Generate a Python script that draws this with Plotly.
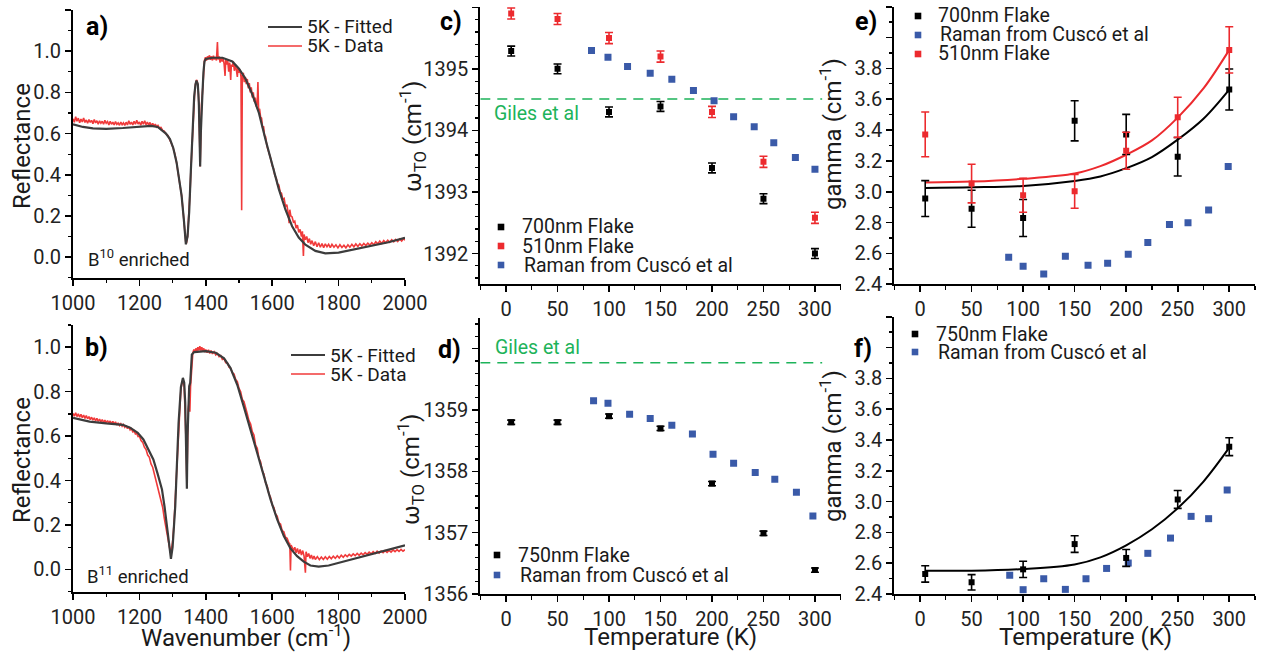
import plotly.graph_objects as go

W, H = 1262, 655
FONT = "Roboto"

# ---------------- panel a / b : reflectance spectra ----------------
fit_a_wn = [1000,1030,1060,1100,1150,1200,1235,1255,1270,1280,1292,1302,1312,1320,1327,1334,1340,1345,1350,1355,
            1360,1365,1369,1372,1376,1379,1381,1383,1385,1387,1390,1393,1396,1400,1420,1450,1480,1500,1520,1540,
            1560,1580,1600,1620,1640,1660,1680,1700,1730,1760,1800,1850,1900,1950,2000]
fit_a_R = [0.645,0.632,0.625,0.623,0.627,0.633,0.637,0.632,0.615,0.6,0.573,0.53,0.46,0.38,0.3,0.18,0.062,0.1,0.22,0.42,
           0.62,0.78,0.84,0.857,0.84,0.75,0.6,0.44,0.6,0.735,0.8,0.9,0.95,0.962,0.968,0.968,0.95,0.915,0.865,0.79,
           0.70,0.57,0.45,0.33,0.23,0.15,0.095,0.06,0.03,0.018,0.022,0.038,0.055,0.072,0.094]

data_a = [(1000,.672),(1004,.655),(1008,.682),(1012,.66),(1016,.675),(1020,.652),(1024,.67),(1028,.656),(1032,.676),
 (1036,.654),(1040,.666),(1044,.65),(1048,.668),(1052,.654),(1056,.664),(1060,.648),(1064,.668),(1068,.652),(1072,.662),
 (1076,.646),(1080,.662),(1084,.65),(1088,.66),(1092,.645),(1096,.664),(1100,.65),(1104,.658),(1108,.642),(1112,.66),
 (1116,.645),(1120,.655),(1124,.642),(1128,.658),(1132,.645),(1136,.652),(1140,.64),(1144,.656),(1148,.643),(1152,.652),
 (1156,.64),(1160,.655),(1164,.642),(1168,.662),(1172,.645),(1176,.655),(1180,.642),(1184,.66),(1188,.645),(1192,.664),
 (1196,.646),(1200,.656),(1204,.64),(1208,.66),(1212,.645),(1216,.662),(1220,.643),(1224,.656),(1228,.64),(1232,.654),
 (1236,.638),(1240,.65),(1244,.636),(1248,.646),(1252,.632),(1256,.64),(1260,.628),(1265,.63),(1270,.615),(1275,.612),
 (1280,.598),(1286,.59),(1292,.57),(1297,.55),(1302,.528),(1307,.5),(1312,.458),(1316,.42),(1320,.38),(1324,.335),
 (1327,.3),(1331,.235),(1334,.18),(1337,.12),(1340,.065),(1342,.07),(1345,.1),(1348,.17),(1350,.22),(1353,.33),
 (1355,.42),(1358,.54),(1360,.62),(1363,.72),(1365,.78),(1367,.815),(1369,.84),(1372,.86),(1374,.855),(1376,.835),
 (1378,.79),(1379,.75),(1381,.6),(1383,.44),(1385,.62),(1387,.74),(1390,.8),(1393,.9),(1396,.955),(1399,.97),
 (1402,.955),(1405,.975),(1408,.96),(1411,.98),(1414,.958),(1417,.975),(1420,.955),(1423,.978),(1426,.96),(1429,.972),
 (1432,.955),(1435,1.045),(1437,.96),(1440,.975),(1443,.945),(1446,.97),(1449,.95),(1452,.965),(1455,.94),(1458,.88),
 (1460,.96),(1463,.935),(1466,.955),(1469,.9),(1472,.945),(1475,.86),(1477,.935),(1480,.925),(1483,.95),(1486,.905),
 (1489,.935),(1492,.91),(1495,.875),(1497,.92),(1500,.895),(1503,.91),(1506,.875),(1508,.228),(1510,.88),(1513,.895),
 (1516,.85),(1519,.875),(1522,.84),(1525,.865),(1528,.82),(1531,.845),(1534,.8),(1537,.825),(1540,.775),(1543,.8),
 (1546,.755),(1549,.775),(1552,.73),(1555,.75),(1557,.85),(1559,.715),(1562,.72),(1565,.68),(1568,.675),(1571,.63),
 (1574,.635),(1577,.59),(1580,.585),(1584,.54),(1588,.52),(1592,.49),(1596,.475),(1600,.445),(1604,.43),(1608,.395),
 (1612,.385),(1616,.355),(1620,.35),(1624,.315),(1628,.31),(1632,.28),(1636,.285),(1640,.245),(1644,.255),(1648,.215),
 (1651,.165),(1653,.23),(1656,.2),(1660,.195),(1664,.17),(1668,.175),(1672,.14),(1676,.155),(1680,.12),(1684,.135),
 (1688,.1),(1691,.125),(1694,.005),(1696,.11),(1700,.085),(1704,.1),(1708,.07),(1712,.09),(1716,.062),(1720,.08),
 (1725,.055),(1730,.075),(1735,.05),(1740,.07),(1745,.048),(1750,.066),(1755,.046),(1760,.064),(1765,.05),(1770,.062),
 (1775,.046),(1780,.062),(1786,.048),(1792,.06),(1798,.045),(1804,.06),(1810,.047),(1816,.058),(1822,.045),(1828,.06),
 (1834,.048),(1840,.062),(1846,.05),(1852,.064),(1858,.052),(1864,.065),(1870,.054),(1876,.066),(1882,.056),(1888,.068),
 (1894,.058),(1900,.07),(1906,.06),(1912,.074),(1918,.064),(1924,.078),(1930,.066),(1936,.08),(1942,.07),(1948,.082),
 (1954,.072),(1960,.084),(1966,.074),(1972,.086),(1978,.076),(1984,.088),(1990,.078),(1996,.09),(2000,.082)]

fit_b_wn = [1000,1050,1100,1150,1172,1195,1212,1228,1242,1255,1268,1276,1283,1289,1295,1300,1308,1318,1325,1331,
            1335,1338,1341,1343,1345,1348,1350,1353,1356,1358,1365,1400,1430,1455,1474,1495,1514,1535,1555,1575,
            1595,1615,1635,1655,1675,1695,1715,1740,1770,1800,1850,1900,1950,2000]
fit_b_R = [0.682,0.665,0.657,0.651,0.638,0.615,0.585,0.54,0.495,0.43,0.36,0.28,0.195,0.1,0.048,0.1,0.285,0.66,0.82,0.862,
           0.84,0.75,0.55,0.363,0.6,0.78,0.825,0.84,0.9,0.967,0.978,0.982,0.975,0.95,0.907,0.83,0.735,0.63,0.525,0.42,
           0.315,0.225,0.15,0.095,0.06,0.035,0.018,0.013,0.018,0.03,0.05,0.072,0.092,0.109]

data_b = [(1000,.702),(1004,.69),(1008,.705),(1012,.688),(1016,.7),(1020,.685),(1024,.698),(1028,.683),(1032,.695),
 (1036,.68),(1040,.692),(1044,.678),(1048,.688),(1052,.674),(1056,.685),(1060,.672),(1064,.682),(1068,.668),(1072,.68),
 (1076,.666),(1080,.676),(1084,.664),(1088,.674),(1092,.662),(1096,.672),(1100,.66),(1104,.67),(1108,.658),(1112,.668),
 (1116,.656),(1120,.666),(1124,.654),(1128,.664),(1132,.65),(1136,.66),(1140,.648),(1144,.656),(1148,.644),(1152,.652),
 (1156,.64),(1160,.648),(1164,.634),(1168,.642),(1172,.628),(1176,.634),(1180,.62),(1184,.624),(1188,.61),(1192,.612),
 (1196,.598),(1200,.6),(1205,.58),(1210,.572),(1215,.55),(1220,.54),(1225,.515),(1230,.505),(1235,.475),(1240,.46),
 (1245,.43),(1250,.41),(1255,.375),(1260,.35),(1265,.31),(1270,.28),(1275,.23),(1280,.19),(1285,.14),(1290,.095),
 (1293,.08),(1296,.085),(1300,.125),(1304,.2),(1308,.32),(1312,.45),(1316,.6),(1320,.72),(1325,.81),(1329,.845),
 (1332,.85),(1335,.82),(1338,.72),(1341,.55),(1343,.38),(1345,.55),(1347,.72),(1350,.76),(1352,.71),(1354,.82),
 (1356,.88),(1358,.95),(1361,.975),(1364,.99),(1367,.978),(1370,.995),(1373,.98),(1376,1.0),(1379,.985),(1382,1.005),
 (1385,.985),(1388,1.0),(1391,.98),(1394,.995),(1397,.978),(1400,.99),(1404,.975),(1408,.988),(1412,.972),(1416,.985),
 (1420,.97),(1425,.98),(1430,.965),(1435,.972),(1440,.958),(1445,.962),(1450,.945),(1455,.948),(1460,.93),(1465,.93),
 (1470,.91),(1475,.905),(1480,.885),(1485,.88),(1490,.855),(1495,.845),(1500,.815),(1505,.8),(1510,.765),(1515,.755),
 (1520,.72),(1525,.7),(1530,.67),(1535,.655),(1540,.62),(1545,.605),(1550,.56),(1555,.545),(1560,.5),(1565,.485),
 (1570,.445),(1575,.43),(1580,.39),(1585,.375),(1590,.34),(1595,.325),(1600,.29),(1605,.28),(1610,.25),(1615,.24),
 (1620,.21),(1625,.205),(1630,.175),(1635,.17),(1640,.145),(1645,.14),(1650,.12),(1653,.115),(1655,-.005),(1657,.11),
 (1660,.1),(1664,.085),(1668,.1),(1672,.075),(1676,.095),(1680,.07),(1684,.09),(1688,.065),(1692,.085),(1696,.06),
 (1700,-.015),(1702,.08),(1706,.058),(1710,.072),(1714,.05),(1718,.065),(1722,.046),(1726,.06),(1730,.045),(1736,.058),
 (1742,.044),(1748,.056),(1754,.045),(1760,.057),(1766,.046),(1772,.058),(1778,.048),(1784,.06),(1790,.05),(1796,.062),
 (1802,.052),(1808,.064),(1814,.055),(1820,.066),(1826,.058),(1832,.068),(1838,.06),(1844,.07),(1850,.062),(1856,.072),
 (1862,.064),(1868,.074),(1874,.066),(1880,.076),(1886,.068),(1892,.078),(1898,.07),(1904,.08),(1910,.072),(1916,.082),
 (1922,.074),(1928,.083),(1934,.076),(1940,.085),(1946,.077),(1952,.086),(1958,.078),(1964,.088),(1970,.08),(1976,.089),
 (1982,.081),(1988,.09),(1994,.082),(2000,.089)]

# ---------------- panel c / d : omega_TO ----------------
T_flake = [5, 50, 100, 150, 200, 250, 300]
w700 = [1395.29, 1395.00, 1394.30, 1394.39, 1393.39, 1392.89, 1392.00]
w700_err = [0.08, 0.08, 0.08, 0.08, 0.08, 0.08, 0.08]
w510 = [1395.90, 1395.81, 1395.50, 1395.20, 1394.30, 1393.49, 1392.58]
w510_err = [0.09, 0.09, 0.09, 0.09, 0.09, 0.09, 0.09]
T_raman_c = [83, 99, 118, 140, 161, 182, 202, 221, 241, 260, 281, 300]
w_raman_c = [1395.30, 1395.19, 1395.04, 1394.93, 1394.83, 1394.65, 1394.48, 1394.22, 1394.06, 1393.80, 1393.56, 1393.37]
giles_T = [-25, 307]
giles_c = [1394.51, 1394.51]

w750 = [1358.80, 1358.80, 1358.90, 1358.70, 1357.80, 1356.99, 1356.39]
w750_err = [0.035, 0.035, 0.035, 0.035, 0.035, 0.035, 0.035]
T_raman_d = [85, 99, 120, 140, 161, 181, 201, 221, 242, 261, 282, 298]
w_raman_d = [1359.15, 1359.11, 1358.93, 1358.86, 1358.75, 1358.61, 1358.28, 1358.13, 1357.98, 1357.87, 1357.66, 1357.27]
giles_d = [1359.77, 1359.77]

# ---------------- panel e / f : gamma ----------------
g700 = [2.956, 2.89, 2.83, 3.46, 3.372, 3.227, 3.663]
g700_err = [0.116, 0.12, 0.12, 0.13, 0.13, 0.125, 0.133]
g510 = [3.372, 3.053, 2.977, 3.003, 3.266, 3.483, 3.92]
g510_err = [0.145, 0.125, 0.11, 0.11, 0.12, 0.13, 0.15]
T_raman_e = [86, 100, 120, 141, 163, 182, 202, 221, 242, 260, 280, 299]
g_raman_e = [2.576, 2.517, 2.467, 2.582, 2.524, 2.537, 2.595, 2.671, 2.788, 2.799, 2.882, 3.164]
T_fit = [5, 50, 100, 150, 175, 200, 225, 250, 275, 300]
g700_fit = [3.025, 3.029, 3.038, 3.07, 3.099, 3.153, 3.225, 3.338, 3.474, 3.663]
g510_fit = [3.06, 3.066, 3.084, 3.118, 3.166, 3.24, 3.333, 3.481, 3.67, 3.92]

g750 = [2.53, 2.476, 2.56, 2.724, 2.634, 3.014, 3.356]
g750_err = [0.053, 0.05, 0.053, 0.054, 0.055, 0.058, 0.058]
T_raman_f = [87, 100, 120, 141, 161, 181, 202, 221, 243, 263, 280, 298]
g_raman_f = [2.521, 2.428, 2.499, 2.430, 2.499, 2.566, 2.601, 2.664, 2.763, 2.904, 2.889, 3.075]
g750_fit = [2.551, 2.551, 2.562, 2.592, 2.638, 2.716, 2.82, 2.956, 3.13, 3.35]

gamma_ticks = [2.4, 2.6, 2.8, 3.0, 3.2, 3.4, 3.6, 3.8, 4.0, 4.2]
gamma_labels = ["2.4", "2.6", "2.8", "3.0", "3.2", "3.4", "3.6", "3.8", "", ""]

# ---------------- styles ----------------
RED = "#ec2a2e"
REDLINE = "#f03a3a"
GRAY = "#3c3c3c"
BLUE = "#3a5aa8"
GREEN = "#1db35a"


def pxx(x):
    return x / W


def pyy(y):
    return 1 - y / H


fig = go.Figure()

wa, Ra = zip(*data_a)
wb, Rb = zip(*data_b)
fig.add_trace(go.Scatter(x=wa, y=Ra, mode="lines", line=dict(color=REDLINE, width=1.6), xaxis="x", yaxis="y"))
fig.add_trace(go.Scatter(x=fit_a_wn, y=fit_a_R, mode="lines", line=dict(color=GRAY, width=2.2), xaxis="x", yaxis="y"))
fig.add_trace(go.Scatter(x=wb, y=Rb, mode="lines", line=dict(color=REDLINE, width=1.6), xaxis="x2", yaxis="y2"))
fig.add_trace(go.Scatter(x=fit_b_wn, y=fit_b_R, mode="lines", line=dict(color=GRAY, width=2.2), xaxis="x2", yaxis="y2"))


def pts(x, y, color, xa, ya, err=None, size=7):
    kw = {}
    if err is not None:
        kw["error_y"] = dict(type="data", array=err, color=color, thickness=1.6, width=4)
    return go.Scatter(x=x, y=y, mode="markers", marker=dict(symbol="square", size=size, color=color),
                      xaxis=xa, yaxis=ya, **kw)


# c
fig.add_trace(go.Scatter(x=giles_T, y=giles_c, mode="lines", line=dict(color=GREEN, width=1.6, dash="10px,7px"),
                         xaxis="x3", yaxis="y3"))
fig.add_trace(pts(T_raman_c, w_raman_c, BLUE, "x3", "y3"))
fig.add_trace(pts(T_flake, w700, "black", "x3", "y3", w700_err, 6))
fig.add_trace(pts(T_flake, w510, RED, "x3", "y3", w510_err, 6))
# d
fig.add_trace(go.Scatter(x=giles_T, y=giles_d, mode="lines", line=dict(color=GREEN, width=1.6, dash="10px,7px"),
                         xaxis="x4", yaxis="y4"))
fig.add_trace(pts(T_raman_d, w_raman_d, BLUE, "x4", "y4"))
fig.add_trace(pts(T_flake, w750, "black", "x4", "y4", w750_err, 6))
# e
fig.add_trace(pts(T_raman_e, g_raman_e, BLUE, "x5", "y5"))
fig.add_trace(go.Scatter(x=T_fit, y=g700_fit, mode="lines", line=dict(color="black", width=2, shape="spline"),
                         xaxis="x5", yaxis="y5"))
fig.add_trace(go.Scatter(x=T_fit, y=g510_fit, mode="lines", line=dict(color=RED, width=2, shape="spline"),
                         xaxis="x5", yaxis="y5"))
fig.add_trace(pts(T_flake, g700, "black", "x5", "y5", g700_err, 6))
fig.add_trace(pts(T_flake, g510, RED, "x5", "y5", g510_err, 6))
# f
fig.add_trace(pts(T_raman_f, g_raman_f, BLUE, "x6", "y6"))
fig.add_trace(go.Scatter(x=T_fit, y=g750_fit, mode="lines", line=dict(color="black", width=2, shape="spline"),
                         xaxis="x6", yaxis="y6"))
fig.add_trace(pts(T_flake, g750, "black", "x6", "y6", g750_err, 6))


def axis(domain, rng, anchor, dtick=None, tick0=None, tickvals=None, ticktext=None, minor=None, fmt=None):
    d = dict(domain=domain, range=rng, anchor=anchor, showline=True, linecolor="black", linewidth=2,
             ticks="outside", ticklen=6, tickwidth=1.6, tickcolor="black", showgrid=False, zeroline=False,
             automargin=False, tickfont=dict(family=FONT, size=20, color="#222"), fixedrange=True)
    if fmt:
        d["tickformat"] = fmt
    if tickvals is not None:
        d["tickmode"] = "array"
        d["tickvals"] = tickvals
        if ticktext is not None:
            d["ticktext"] = ticktext
    else:
        d["tickmode"] = "linear"
        d["dtick"] = dtick
        d["tick0"] = tick0 if tick0 is not None else 0
    if minor is not None:
        d["minor"] = dict(dtick=minor[0], tick0=minor[1], ticks="outside", ticklen=3.5, tickwidth=1.3,
                          tickcolor="black", showgrid=False)
    return d


xa_dom = [pxx(73), pxx(405)]
xc_dom = [pxx(480.3), pxx(840.7)]
xe_dom = [pxx(894.3), pxx(1255)]
top_a = [pyy(277.7), pyy(10)]
bot_b = [pyy(591.7), pyy(325)]
top_c = [pyy(284.3), pyy(7.3)]
bot_d = [pyy(594), pyy(318)]
top_e = [pyy(284.3), pyy(6.7)]
bot_f = [pyy(594), pyy(316.7)]

layout = dict(
    template="none",
    width=W, height=H, margin=dict(l=0, r=0, t=0, b=0, pad=0, autoexpand=False), showlegend=False,
    plot_bgcolor="white", paper_bgcolor="white", font=dict(family=FONT, color="#1a1a1a"),
    xaxis=axis(xa_dom, [1000, 2000], "y", dtick=200, tick0=1000, minor=(100, 1000)),
    yaxis=axis(top_a, [-0.1, 1.2], "x", dtick=0.2, tick0=0, minor=(0.1, 0), fmt=".1f"),
    xaxis2=axis(xa_dom, [1000, 2000], "y2", dtick=200, tick0=1000, minor=(100, 1000)),
    yaxis2=axis(bot_b, [-0.1, 1.1], "x2", dtick=0.2, tick0=0, minor=(0.1, 0), fmt=".1f"),
    xaxis3=axis(xc_dom, [-25, 325], "y3", dtick=50, tick0=0, minor=(25, 0)),
    yaxis3=axis(top_c, [1391.5, 1396], "x3", tickvals=[1392, 1393, 1394, 1395, 1396],
                ticktext=["1392", "1393", "1394", "1395", ""], minor=(0.2, 1392)),
    xaxis4=axis(xc_dom, [-25, 325], "y4", dtick=50, tick0=0, minor=(25, 0)),
    yaxis4=axis(bot_d, [1356, 1360.5], "x4", tickvals=[1356, 1357, 1358, 1359, 1360],
                ticktext=["1356", "1357", "1358", "1359", ""], minor=(0.2, 1356)),
    xaxis5=axis(xe_dom, [-25, 325], "y5", dtick=50, tick0=0, minor=(25, 0)),
    yaxis5=axis(top_e, [2.4, 4.2], "x5", tickvals=gamma_ticks, ticktext=gamma_labels, minor=(0.1, 2.4)),
    xaxis6=axis(xe_dom, [-25, 325], "y6", dtick=50, tick0=0, minor=(25, 0)),
    yaxis6=axis(bot_f, [2.4, 4.2], "x6", tickvals=gamma_ticks, ticktext=gamma_labels, minor=(0.1, 2.4)),
)
fig.update_layout(**layout)

anns = []
shapes = []


def ann(text, x, y, size=19, color="#1a1a1a", xanchor="left", angle=0, bold=False):
    anns.append(dict(text=("<b>%s</b>" % text) if bold else text, x=pxx(x), y=pyy(y), xref="paper", yref="paper",
                     xanchor=xanchor, yanchor="middle", showarrow=False, textangle=angle,
                     font=dict(family=FONT, size=size, color=color)))


# panel labels
for lab, x, y in [("a)", 97, 27), ("b)", 97, 347), ("c)", 451, 22), ("d)", 449, 349), ("e)", 866, 21),
                  ("f)", 863, 348)]:
    ann(lab, x, y, size=25, color="black", xanchor="center", bold=True)

# axis titles
ann("Reflectance", 22, 146, size=24, xanchor="center", angle=-90)
ann("Reflectance", 22, 460, size=24, xanchor="center", angle=-90)
ann("Wavenumber (cm<sup>-1</sup>)", 246, 636, size=24, xanchor="center")
ann("ω<sub>TO</sub> (cm<sup>-1</sup>)", 412, 137, size=24, xanchor="center", angle=-90)
ann("ω<sub>TO</sub> (cm<sup>-1</sup>)", 410, 470, size=24, xanchor="center", angle=-90)
ann("Temperature (K)", 670, 637, size=24, xanchor="center")
ann("gamma (cm<sup>-1</sup>)", 831, 134, size=24, xanchor="center", angle=-90)
ann("gamma (cm<sup>-1</sup>)", 831, 446, size=24, xanchor="center", angle=-90)
ann("Temperature (K)", 1085, 637, size=24, xanchor="center")

# in-plot texts
ann("B<sup>10</sup> enriched", 86, 259, size=18.5)
ann("B<sup>11</sup> enriched", 85, 575, size=18.5)
ann("Giles et al", 492, 113, size=19.5, color=GREEN)
ann("Giles et al", 493, 347, size=19.5, color=GREEN)


def leg_line(x0, x1, y, color, width, text):
    shapes.append(dict(type="line", xref="paper", yref="paper", x0=pxx(x0), x1=pxx(x1), y0=pyy(y), y1=pyy(y),
                       line=dict(color=color, width=width)))
    ann(text, x1 + 3, y, size=19)


def leg_sq(x, y, color, text, tx):
    s = 3.3
    shapes.append(dict(type="rect", xref="paper", yref="paper", x0=pxx(x - s), x1=pxx(x + s), y0=pyy(y + s),
                       y1=pyy(y - s), fillcolor=color, line=dict(width=0)))
    ann(text, tx, y, size=19.5)


leg_line(268, 302, 27, GRAY, 2.2, "5K - Fitted")
leg_line(268, 302, 46, REDLINE, 1.5, "5K - Data")
leg_line(291, 325, 355, GRAY, 2.2, "5K - Fitted")
leg_line(291, 325, 374, REDLINE, 1.5, "5K - Data")

leg_sq(501, 227, "black", "700nm Flake", 520)
leg_sq(501, 246, RED, "510nm Flake", 520)
leg_sq(501, 265, BLUE, "Raman from Cuscó et al", 522)

leg_sq(497, 555, "black", "750nm Flake", 516)
leg_sq(497, 575, BLUE, "Raman from Cuscó et al", 518)

leg_sq(918, 16, "black", "700nm Flake", 936)
leg_sq(918, 35, BLUE, "Raman from Cuscó et al", 938)
leg_sq(918, 54, RED, "510nm Flake", 936)

leg_sq(915, 334, "black", "750nm Flake", 934)
leg_sq(915, 352, BLUE, "Raman from Cuscó et al", 936)

fig.update_layout(annotations=anns, shapes=shapes)

fig.write_html("out.html", config={"displayModeBar": False, "staticPlot": True},
               post_script="document.body.style.margin='0';document.body.style.overflow='hidden';")
